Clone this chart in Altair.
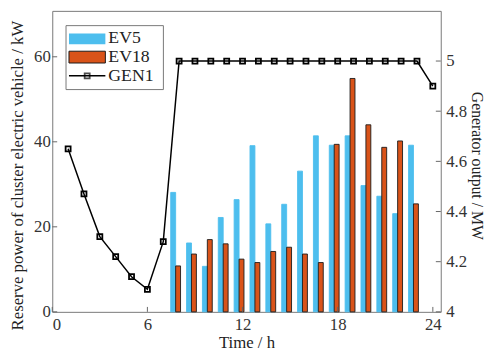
import altair as alt
import pandas as pd

# ---- data ----
hours = list(range(1, 25))
gen1 = [4.65, 4.47, 4.30, 4.22, 4.14, 4.09, 4.28,
        5.0, 5.0, 5.0, 5.0, 5.0, 5.0, 5.0, 5.0, 5.0, 5.0, 5.0, 5.0, 5.0, 5.0, 5.0, 5.0,
        4.90]
ev_hours = list(range(8, 24))
ev5 = [28.1, 16.2, 10.7, 22.2, 26.4, 39.1, 20.7, 25.3, 33.1, 41.4, 39.2, 41.4, 29.7, 27.2, 23.1, 39.2]
ev18 = [10.8, 13.6, 17.0, 16.0, 12.4, 11.6, 14.2, 15.2, 13.6, 11.6, 39.4, 54.9, 44.0, 38.7, 40.2, 25.4]
x_ticks = [0, 6, 12, 18, 24]
left_ticks = [0, 20, 40, 60]
right_ticks = [4, 4.2, 4.4, 4.6, 4.8, 5]
legend_labels = ["EV5", "EV18", "GEN1"]

FONT = "Liberation Serif"
W, H = 395, 306
BLUE = "#4DBEEE"
ORANGE = "#D95319"

ev_df = pd.DataFrame({"hour": ev_hours, "EV5": ev5, "EV18": ev18})
gen_df = pd.DataFrame({"hour": hours, "gen": gen1})

xscale = alt.Scale(domain=[0, 24.5], nice=False, zero=False)
lscale = alt.Scale(domain=[0, 70.8], nice=False)
rscale = alt.Scale(domain=[4, 5.2], nice=False, zero=False)

common = dict(labelFont=FONT, labelFontSize=17, labelColor="#333", titleFont=FONT,
              titleFontWeight="normal", titleColor="#222",
              ticks=False, domain=False, grid=False)
xaxis = alt.Axis(values=x_ticks, title="Time / h", orient="bottom", labelPadding=5,
                 titlePadding=2, titleFontSize=17, **common)
laxis = alt.Axis(values=left_ticks, title="Reserve power of cluster electric vehicle / kW",
                 orient="left", labelPadding=2, titlePadding=7, titleAngle=270, titleY=167,
                 titleFontSize=17, **common)
raxis = alt.Axis(values=right_ticks, title="Generator output / MW", orient="right",
                 labelPadding=5, titlePadding=2, titleAngle=90, titleY=157, format="~g",
                 titleFontSize=16, **common)

bars = alt.Chart(ev_df).transform_fold(["EV5", "EV18"], as_=["key", "val"]).transform_calculate(
    x1="datum.key == 'EV5' ? datum.hour - 0.53 : datum.hour - 0.22",
    x2="datum.key == 'EV5' ? datum.hour - 0.22 : datum.hour + 0.09",
).mark_rect(strokeWidth=0.9).encode(
    x=alt.X("x1:Q", scale=xscale, axis=xaxis),
    x2="x2:Q",
    y=alt.Y("val:Q", scale=lscale, axis=laxis),
    y2=alt.datum(0),
    fill=alt.Fill("key:N", scale=alt.Scale(domain=["EV5", "EV18"], range=[BLUE, ORANGE]), legend=None),
    stroke=alt.Stroke("key:N", scale=alt.Scale(domain=["EV5", "EV18"], range=[BLUE, "#1a1a1a"]), legend=None),
)

gen = alt.Chart(gen_df).mark_line(
    color="black", strokeWidth=1.5,
    point=alt.OverlayMarkDef(shape="square", filled=False, size=26, color="black", strokeWidth=1.8),
).encode(
    x=alt.X("hour:Q", scale=xscale, axis=xaxis),
    y=alt.Y("gen:Q", scale=rscale, axis=raxis),
)

# inward tick marks
lt = alt.Chart(pd.DataFrame({"v": left_ticks})).mark_rule(color="#666").encode(
    x=alt.value(0), x2=alt.value(5), y=alt.Y("v:Q", scale=lscale, axis=None))
rt = alt.Chart(pd.DataFrame({"v": right_ticks})).mark_rule(color="#666").encode(
    x=alt.value(W - 5), x2=alt.value(W), y=alt.Y("v:Q", scale=rscale, axis=None))
bt = alt.Chart(pd.DataFrame({"v": x_ticks})).mark_rule(color="#666").encode(
    x=alt.X("v:Q", scale=xscale, axis=xaxis), y=alt.value(H - 5), y2=alt.value(H))

# legend
one = pd.DataFrame({"a": [0]})
lg_box = alt.Chart(one).mark_rect(fill="white", stroke="#777", strokeWidth=1).encode(
    x=alt.value(14), x2=alt.value(113), y=alt.value(15), y2=alt.value(80))
lg_p1 = alt.Chart(one).mark_rect(fill=BLUE).encode(
    x=alt.value(17), x2=alt.value(54), y=alt.value(23), y2=alt.value(34))
lg_p2 = alt.Chart(one).mark_rect(fill=ORANGE, stroke="#1a1a1a", strokeWidth=1).encode(
    x=alt.value(17), x2=alt.value(54), y=alt.value(41), y2=alt.value(53))
lg_line = alt.Chart(one).mark_rule(color="black", strokeWidth=1.5).encode(
    x=alt.value(17), x2=alt.value(54), y=alt.value(66))
lg_pt = alt.Chart(one).mark_point(shape="square", filled=False, size=26, color="black", strokeWidth=1.8).encode(
    x=alt.value(35.5), y=alt.value(66))
lg_texts = [
    alt.Chart(one).mark_text(align="left", baseline="middle", font=FONT, fontSize=18, color="#222").encode(
        x=alt.value(57), y=alt.value(yy), text=alt.value(lab))
    for lab, yy in zip(legend_labels, [28, 47, 66])
]

chart = alt.layer(
    bars, lt, bt, gen, rt, lg_box, lg_p1, lg_p2, lg_line, lg_pt, *lg_texts
).resolve_scale(y="independent").properties(
    width=W, height=H,
    autosize=alt.AutoSizeParams(type="none"),
    padding={"left": 45, "top": 0, "right": 46, "bottom": 44},
).configure_view(stroke="#777", strokeWidth=1)

chart.save("out.html", embed_options={"renderer": "svg", "actions": False})
